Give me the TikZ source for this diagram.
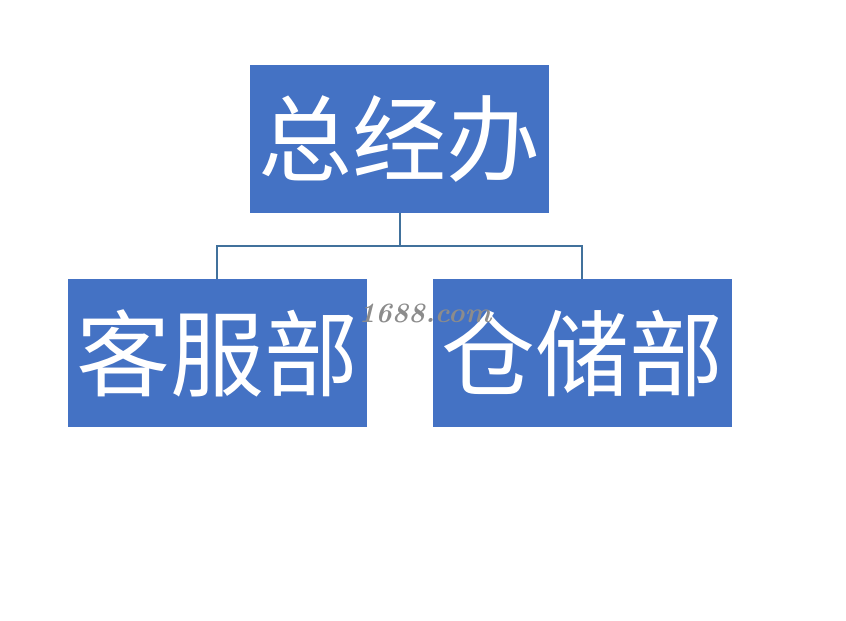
\documentclass[tikz,border=0pt]{standalone}
\usepackage{fontspec}
\newfontfamily\cjk{Noto Sans CJK SC}
\usetikzlibrary{positioning}
\definecolor{boxblue}{HTML}{4472C4}
\definecolor{lineblue}{HTML}{41719C}
\begin{document}
\begin{tikzpicture}[x=1pt, y=-1pt]
				\tikzstyle{dept} = [fill=boxblue, draw=none, minimum width=299pt, minimum height=148pt, inner sep=0pt, text=white, font=\cjk\fontsize{94}{94}\selectfont]
				\tikzstyle{link} = [draw=lineblue, line width=2pt]
				\tikzstyle{wmark} = [draw=none, text=black!45, font=\bfseries\itshape\fontsize{28}{28}\selectfont]
				
				\useasboundingbox (0,0) rectangle (846,621);
				\node[dept]			at (399.5, 139)		(boss)	{总经办};
				\node[dept]			at (217, 353)		(kefu)	{客服部};
				\node[dept]			at (582, 353)		(cang)	{仓储部};
				\coordinate (fork)	at (399.5, 245.5);
				\node[wmark]		at (425, 313)		(wm)	{1688.com};
				
				\path[link]
				(boss.south)	-- (fork)
				(fork)			-| (kefu.north)
				(fork)			-| (cang.north);
			\end{tikzpicture}
\end{document}
